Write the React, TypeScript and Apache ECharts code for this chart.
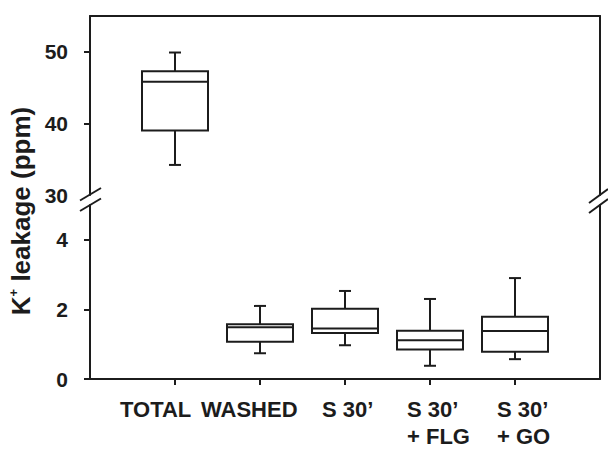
import React, { useEffect, useRef } from "react";
import * as echarts from "echarts";

const categories = ["TOTAL", "WASHED", "S 30\u2019", "S 30\u2019\n+ FLG", "S 30\u2019\n+ GO"];
const mins = [34.2, 0.74, 0.97, 0.38, 0.57];
const q1s = [39.0, 1.07, 1.32, 0.85, 0.78];
const medians = [45.8, 1.49, 1.45, 1.11, 1.38];
const q3s = [47.3, 1.57, 2.02, 1.39, 1.79];
const maxs = [49.9, 2.1, 2.53, 2.3, 2.9];

const upperTicks = [40, 50];
const upperLabels = [30, 40, 50];
const lowerTicks = [0, 2, 4];
const lowerLabels = [0, 2, 4];
const categoryPositions = [1, 2, 3, 4, 5];

const INK = "#1c1c1c";
const FONT = "Liberation Sans, Arial, sans-serif";
// distance (px) from each tick back to the left edge of its label
const labelLeftOffsets = [55, 59, 23, 23, 18];

export default function App() {
  const ref = useRef<HTMLDivElement>(null);

  useEffect(() => {
    document.body.style.margin = "0";
    if (!ref.current) return;
    const chart = echarts.init(ref.current, null, { renderer: "svg" });

    const rows = categories.map((_, i) => [categoryPositions[i], mins[i], q1s[i], medians[i], q3s[i], maxs[i]]);
    const upperData = rows.filter((r) => r[3] >= 30);
    const lowerData = rows.filter((r) => r[3] < 30);

    const renderItem = (params: any, api: any) => {
      const x = api.value(0);
      const pMin = api.coord([x, api.value(1)]);
      const pQ1 = api.coord([x, api.value(2)]);
      const pMed = api.coord([x, api.value(3)]);
      const pQ3 = api.coord([x, api.value(4)]);
      const pMax = api.coord([x, api.value(5)]);
      const cx = pMed[0];
      const half = 33;
      const cap = 6;
      const style = { stroke: INK, lineWidth: 2, fill: null };
      return {
        type: "group",
        children: [
          { type: "line", shape: { x1: cx, y1: pQ3[1], x2: cx, y2: pMax[1] }, style },
          { type: "line", shape: { x1: cx - cap, y1: pMax[1], x2: cx + cap, y2: pMax[1] }, style },
          { type: "line", shape: { x1: cx, y1: pQ1[1], x2: cx, y2: pMin[1] }, style },
          { type: "line", shape: { x1: cx - cap, y1: pMin[1], x2: cx + cap, y2: pMin[1] }, style },
          {
            type: "rect",
            shape: { x: cx - half, y: pQ3[1], width: half * 2, height: pQ1[1] - pQ3[1] },
            style: { stroke: INK, lineWidth: 2, fill: "#fff" },
          },
          { type: "line", shape: { x1: cx - half, y1: pMed[1], x2: cx + half, y2: pMed[1] }, style },
        ],
      };
    };

    const axisLine = { show: true, lineStyle: { color: INK, width: 2 } };
    const labelStyle = { color: INK, fontFamily: FONT, fontWeight: "bold" as const, fontSize: 21 };

    const rich: any = {};
    labelLeftOffsets.forEach((w, i) => {
      rich["c" + i] = {
        width: w, align: "left", fontSize: 22, lineHeight: 27,
        fontWeight: "bold", fontFamily: FONT, color: INK,
      };
    });

    const option: any = {
      animation: false,
      grid: [
        { left: 90, right: 8, top: 16, height: 179 },
        { left: 90, right: 8, top: 205, height: 179 },
      ],
      xAxis: [
        {
          type: "value", gridIndex: 0, min: 0, max: 6, position: "top",
          axisLine, axisTick: { show: false }, axisLabel: { show: false }, splitLine: { show: false },
        },
        {
          type: "value", gridIndex: 1, min: 0, max: 6, position: "bottom",
          axisLine,
          axisTick: { show: true, length: 6, inside: false, customValues: categoryPositions, lineStyle: { color: INK, width: 2 } },
          axisLabel: {
            ...labelStyle, fontSize: 22, lineHeight: 27, margin: 17, align: "right",
            customValues: categoryPositions,
            formatter: (v: number) => {
              const i = Math.round(v) - 1;
              const c = categories[i];
              if (c === undefined) return "";
              return c.split("\n").map((line) => `{c${i}|${line}}`).join("\n");
            },
            rich,
          },
          splitLine: { show: false },
        },
      ],
      yAxis: [
        {
          type: "value", gridIndex: 0, min: 30, max: 55, position: "left",
          axisLine,
          axisTick: { show: true, length: 6, customValues: upperTicks, lineStyle: { color: INK, width: 2 } },
          axisLabel: { ...labelStyle, margin: 22, customValues: upperLabels },
          splitLine: { show: false },
        },
        {
          type: "value", gridIndex: 0, min: 30, max: 55, position: "right",
          axisLine, axisTick: { show: false }, axisLabel: { show: false }, splitLine: { show: false },
        },
        {
          type: "value", gridIndex: 1, min: 0, max: 5, position: "left",
          axisLine,
          axisTick: { show: true, length: 6, customValues: lowerTicks, lineStyle: { color: INK, width: 2 } },
          axisLabel: { ...labelStyle, margin: 22, customValues: lowerLabels },
          splitLine: { show: false },
        },
        {
          type: "value", gridIndex: 1, min: 0, max: 5, position: "right",
          axisLine, axisTick: { show: false }, axisLabel: { show: false }, splitLine: { show: false },
        },
      ],
      series: [
        {
          type: "custom", xAxisIndex: 0, yAxisIndex: 0, data: upperData, renderItem,
          encode: { x: 0, y: [1, 2, 3, 4, 5] }, clip: false,
        },
        {
          type: "custom", xAxisIndex: 1, yAxisIndex: 2, data: lowerData, renderItem,
          encode: { x: 0, y: [1, 2, 3, 4, 5] }, clip: false,
        },
      ],
      graphic: [
        { type: "line", shape: { x1: 80, y1: 200.5, x2: 101, y2: 188 }, style: { stroke: INK, lineWidth: 2 } },
        { type: "line", shape: { x1: 80, y1: 211, x2: 101, y2: 198.5 }, style: { stroke: INK, lineWidth: 2 } },
        { type: "line", shape: { x1: 589, y1: 203, x2: 608, y2: 189 }, style: { stroke: INK, lineWidth: 2 } },
        { type: "line", shape: { x1: 589, y1: 213, x2: 608, y2: 199 }, style: { stroke: INK, lineWidth: 2 } },
        {
          type: "text",
          x: 21,
          y: 211,
          rotation: Math.PI / 2,
          style: {
            text: "{a|K}{b|+}{a| leakage (ppm)}",
            align: "center",
            verticalAlign: "middle",
            fill: INK,
            rich: {
              a: { fontSize: 26, fontWeight: "bold", fontFamily: FONT, fill: INK, verticalAlign: "middle" },
              b: { fontSize: 13, fontWeight: "bold", fontFamily: FONT, fill: INK, verticalAlign: "top", lineHeight: 29 },
            },
          },
        },
      ],
    };

    chart.setOption(option);
    return () => chart.dispose();
  }, []);

  return <div ref={ref} style={{ width: 608, height: 450 }} />;
}
